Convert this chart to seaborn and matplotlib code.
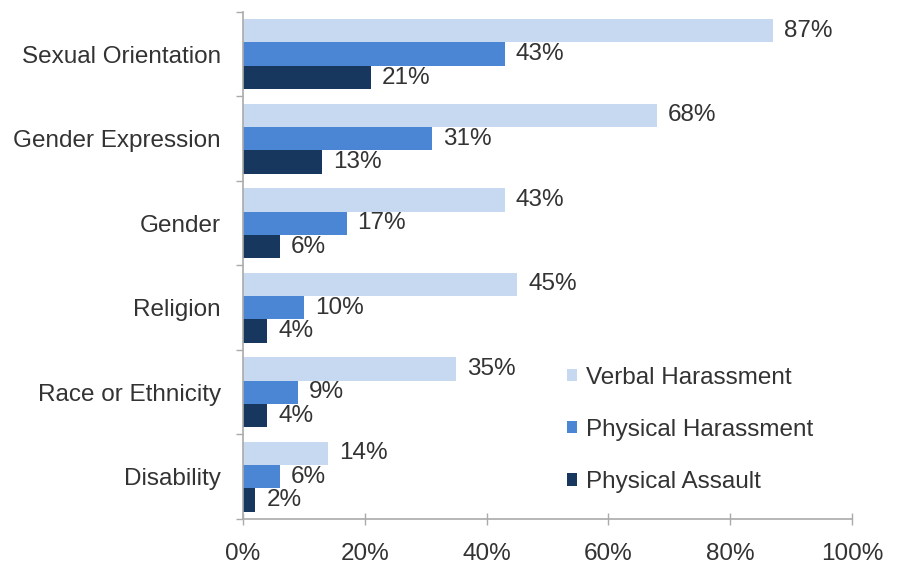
import numpy as np
import pandas as pd
import matplotlib.pyplot as plt
import seaborn as sns

categorias = ["Sexual Orientation", "Gender Expression", "Gender", "Religion",
              "Race or Ethnicity", "Disability"]
series = ["Verbal Harassment", "Physical Harassment", "Physical Assault"]
verbal = [87, 68, 43, 45, 35, 14]
fisico = [43, 31, 17, 10, 9, 6]
asalto = [21, 13, 6, 4, 4, 2]
ticks_x = [0, 20, 40, 60, 80, 100]
colores = ["#c6d9f1", "#4a86d4", "#17375e"]

df = pd.DataFrame({
    "categoria": categorias * 3,
    "tipo": [s for s in series for _ in categorias],
    "valor": verbal + fisico + asalto,
})

sns.set_style("white")
plt.rcParams['font.family'] = ['Liberation Sans', 'DejaVu Sans']
gris = "#333333"
fs = 17.5

fig = plt.figure(figsize=(8.98, 5.66), dpi=100)
ax = fig.add_axes([0.2706, 0.083, 0.678, 0.896])

sns.barplot(data=df, y="categoria", x="valor", hue="tipo", order=categorias,
            hue_order=series, palette=colores, width=0.83, saturation=1,
            linewidth=0, orient="h", ax=ax, legend=True)

for cont in ax.containers:
    ax.bar_label(cont, fmt="%d%%", padding=8, fontsize=fs, color=gris)

ax.set_xlim(0, 100)
ax.set_ylim(len(categorias) - 0.5, -0.5)
ax.set_xticks(ticks_x)
ax.set_xticklabels([f"{t}%" for t in ticks_x], fontsize=fs, color=gris)
ax.set_yticks(range(len(categorias)))
ax.set_yticklabels(categorias, fontsize=fs, color=gris)
ax.set_yticks(np.arange(-0.5, len(categorias)), minor=True)
ax.tick_params(axis="y", which="major", left=False, length=0, pad=16)
ax.tick_params(axis="y", which="minor", left=True, length=5, width=1,
               color="#aaaaaa", direction="out")
ax.tick_params(axis="x", bottom=True, length=8, width=1, color="#aaaaaa",
               direction="inout", pad=13)
ax.set_xlabel("")
ax.set_ylabel("")

for lado in ["top", "right"]:
    ax.spines[lado].set_visible(False)
for lado in ["left", "bottom"]:
    ax.spines[lado].set_color("#aaaaaa")
    ax.spines[lado].set_linewidth(1.2)

leg = ax.legend(loc="lower left", bbox_to_anchor=(0.496, 0.008), frameon=False,
                fontsize=fs, handlelength=0.4, handleheight=0.4,
                handletextpad=0.4, labelspacing=1.24)
for t in leg.get_texts():
    t.set_color(gris)

plt.savefig("out.png", dpi=100)
plt.close()
